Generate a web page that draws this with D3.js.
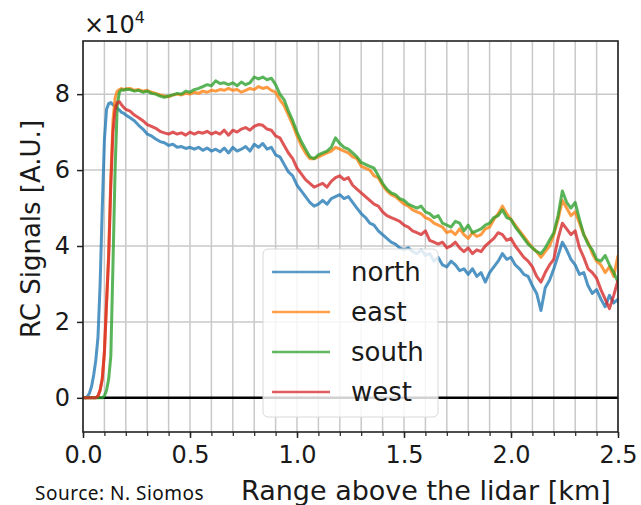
<!DOCTYPE html>
<html><head><meta charset="utf-8">
<script src="https://cdn.jsdelivr.net/npm/d3@7"></script>
<style>body{margin:0;background:#fff}svg{display:block}</style>
</head><body><div id="c"></div>
<script>
const rangeKm = [0,0.01,0.02,0.03,0.04,0.05,0.06,0.07,0.08,0.09,0.10,0.11,0.12,0.13,0.14,0.15,0.16,0.17,0.18,0.19,0.20,
0.22,0.24,0.26,0.28,0.30,0.32,0.34,0.36,0.38,0.40,0.42,0.44,0.46,0.48,0.50,0.52,0.54,0.56,0.58,0.60,
0.62,0.64,0.66,0.68,0.70,0.72,0.74,0.76,0.78,0.80,0.82,0.84,0.86,0.88,0.90,0.92,0.94,0.96,0.98,1.00,
1.02,1.04,1.06,1.08,1.10,1.12,1.14,1.16,1.18,1.20,1.22,1.24,1.26,1.28,1.30,1.32,1.34,1.36,1.38,1.40,
1.42,1.44,1.46,1.48,1.50,1.52,1.54,1.56,1.58,1.60,1.62,1.64,1.66,1.68,1.70,1.72,1.74,1.76,1.78,1.80,
1.82,1.84,1.86,1.88,1.90,1.92,1.94,1.96,1.98,2.00,2.02,2.04,2.06,2.08,2.10,2.12,2.14,2.16,2.18,2.20,
2.22,2.24,2.26,2.28,2.30,2.32,2.34,2.36,2.38,2.40,2.42,2.44,2.46,2.48,2.50];

const north = [0,0,0.03,0.12,0.3,0.6,1.0,1.6,3.0,5.0,6.8,7.6,7.75,7.78,7.72,7.68,7.62,7.58,7.52,7.5,7.45,
7.38,7.3,7.18,7.08,6.95,6.9,6.82,6.75,6.72,6.65,6.68,6.6,6.62,6.57,6.6,6.55,6.6,6.52,6.58,6.5,
6.55,6.48,6.58,6.45,6.6,6.5,6.55,6.62,6.5,6.68,6.6,6.7,6.55,6.6,6.4,6.35,6.15,5.95,5.85,5.6,
5.45,5.3,5.15,5.05,5.1,5.2,5.1,5.25,5.3,5.35,5.25,5.3,5.15,5.0,4.85,4.75,4.6,4.55,4.4,4.3,
4.2,4.1,4.05,3.95,3.9,3.95,3.85,3.8,3.9,3.75,3.8,3.6,3.7,3.5,3.45,3.6,3.5,3.35,3.4,3.25,
3.4,3.2,3.3,3.05,3.3,3.45,3.6,3.8,3.65,3.7,3.5,3.4,3.25,3.2,2.95,2.75,2.3,2.9,3.1,3.4,
3.75,4.1,3.9,3.65,3.5,3.25,3.3,2.95,2.75,2.85,2.6,2.4,2.7,2.5,2.6];

const east = [0,0,0,0,0,0,0,0.05,0.2,0.5,1.2,2.5,3.8,5.8,7.3,7.9,8.08,8.12,8.15,8.12,8.14,
8.15,8.1,8.12,8.08,8.1,8.05,8.02,7.98,7.95,7.93,7.98,8.0,7.98,8.02,8.0,8.05,8.02,8.08,8.05,8.1,
8.08,8.12,8.1,8.15,8.1,8.12,8.05,8.1,8.15,8.12,8.2,8.15,8.18,8.1,8.05,7.85,7.7,7.45,7.2,6.9,
6.65,6.45,6.3,6.3,6.35,6.4,6.45,6.5,6.6,6.55,6.5,6.45,6.35,6.3,6.1,6.05,6.0,5.85,5.8,5.6,
5.45,5.35,5.3,5.2,5.1,5.05,4.95,4.9,4.85,4.75,4.7,4.6,4.55,4.5,4.35,4.4,4.3,4.45,4.3,4.2,
4.35,4.25,4.3,4.45,4.5,4.7,4.85,5.05,4.85,4.7,4.55,4.4,4.25,4.1,3.95,3.85,3.7,3.85,4.0,4.3,
4.7,5.2,5.0,4.8,4.9,4.6,4.3,4.1,3.8,3.6,3.5,3.3,3.45,3.2,3.75];

const south = [0,0,0,0,0,0,0,0,0,0,0.05,0.2,0.5,1.1,3.5,6.0,7.7,8.05,8.12,8.1,8.13,
8.12,8.08,8.1,8.05,8.08,8.02,8.0,7.95,7.92,7.95,7.98,8.02,8.0,8.08,8.05,8.12,8.15,8.2,8.25,8.22,
8.35,8.28,8.3,8.25,8.3,8.22,8.32,8.25,8.3,8.45,8.4,8.45,8.38,8.42,8.25,8.0,7.85,7.55,7.3,7.0,
6.75,6.55,6.35,6.3,6.4,6.45,6.5,6.6,6.85,6.7,6.6,6.55,6.45,6.35,6.2,6.15,6.1,6.05,5.85,5.65,
5.5,5.4,5.35,5.25,5.2,5.1,5.05,5.0,5.05,4.9,4.85,4.75,4.8,4.6,4.55,4.5,4.65,4.6,4.4,4.55,
4.35,4.4,4.45,4.55,4.6,4.75,4.8,4.95,4.75,4.7,4.5,4.35,4.2,4.05,3.95,3.85,3.8,3.95,4.15,4.35,
4.8,5.45,5.15,5.0,5.15,4.7,4.3,4.05,3.9,3.65,3.6,3.75,3.5,3.3,3.05];

const west = [0,0,0,0,0,0,0,0.05,0.2,0.5,1.2,2.5,3.7,5.6,7.0,7.6,7.78,7.8,7.72,7.65,7.6,
7.55,7.45,7.38,7.3,7.2,7.15,7.1,7.02,6.98,6.95,7.0,6.95,6.98,6.92,7.0,6.95,7.0,6.97,7.02,6.95,
7.0,6.95,7.05,6.92,7.05,7.0,7.08,7.12,7.05,7.15,7.2,7.18,7.08,7.05,6.9,6.85,6.65,6.45,6.3,6.05,
5.9,5.75,5.65,5.55,5.6,5.65,5.55,5.7,5.8,5.85,5.75,5.8,5.6,5.5,5.4,5.3,5.2,5.1,5.05,4.9,
4.8,4.75,4.7,4.65,4.55,4.5,4.4,4.35,4.3,4.4,4.15,4.1,4.05,4.1,3.95,4.0,4.1,3.95,3.85,3.95,
3.8,3.9,3.85,4.0,4.1,4.2,4.35,4.3,4.15,4.2,4.0,3.85,3.7,3.6,3.45,3.2,3.05,3.3,3.5,3.65,
4.2,4.6,4.45,4.3,4.4,3.95,3.7,3.4,3.3,3.15,2.85,2.6,2.35,2.7,3.1];

const seriesNames = ["north","east","south","west"];
const seriesColors = ["#1f77b4","#ff7f0e","#2ca02c","#d62728"];
const xTicks = [0,0.5,1.0,1.5,2.0,2.5];
const xMinorTicks = [0,0.1,0.2,0.3,0.4,0.5,0.6,0.7,0.8,0.9,1.0,1.1,1.2,1.3,1.4,1.5,1.6,1.7,1.8,1.9,2.0,2.1,2.2,2.3,2.4,2.5];
const yTicks = [0,2,4,6,8];

const W = 641, H = 505;
const L = 83, R = 618, T = 41, B = 432;
const svg = d3.select("#c").append("svg").attr("width", W).attr("height", H);
const x = d3.scaleLinear().domain([0, 2.5]).range([L, R]);
const y = d3.scaleLinear().domain([-0.9, 9.4]).range([B, T]);
const font = "DejaVu Sans, sans-serif";

svg.append("defs").append("clipPath").attr("id","clip")
  .append("rect").attr("x", L).attr("y", T).attr("width", R - L).attr("height", B - T);

// grid
const g = svg.append("g");
g.selectAll(".vg").data(xMinorTicks).join("line")
  .attr("x1", d => x(d)).attr("x2", d => x(d)).attr("y1", T).attr("y2", B)
  .attr("stroke", "#c8c8c8").attr("stroke-width", 1.5);
g.selectAll(".hg").data(yTicks).join("line")
  .attr("x1", L).attr("x2", R).attr("y1", d => y(d)).attr("y2", d => y(d))
  .attr("stroke", "#c8c8c8").attr("stroke-width", 1.5);

// zero line
svg.append("line").attr("x1", L).attr("x2", R).attr("y1", y(0)).attr("y2", y(0))
  .attr("stroke", "#000").attr("stroke-width", 2.5);

// series
const data = [north, east, south, west];
const line = d3.line().x((d, i) => x(rangeKm[i])).y(d => y(d));
const lg = svg.append("g").attr("clip-path", "url(#clip)");
data.forEach((s, k) => {
  lg.append("path").datum(s).attr("d", line).attr("fill", "none")
    .attr("stroke", seriesColors[k]).attr("stroke-width", 3)
    .attr("stroke-opacity", 0.78).attr("stroke-linejoin", "round");
});

// axes
const xAxis = svg.append("g").attr("transform", `translate(0,${B})`)
  .call(d3.axisBottom(x).tickValues(xTicks).tickFormat(d3.format(".1f")).tickSize(6).tickPadding(8));
const xMinor = svg.append("g").attr("transform", `translate(0,${B})`)
  .call(d3.axisBottom(x).tickValues(xMinorTicks).tickFormat("").tickSize(4));
xMinor.select(".domain").remove();
const yAxis = svg.append("g").attr("transform", `translate(${L},0)`)
  .call(d3.axisLeft(y).tickValues(yTicks).tickSize(6).tickPadding(7));
[xAxis, yAxis].forEach(a => {
  a.select(".domain").remove();
  a.selectAll("text").attr("font-family", font).attr("font-size", 24).attr("fill", "#1a1a1a");
  a.selectAll("line").attr("stroke", "#222").attr("stroke-width", 1.5);
});
xMinor.selectAll("line").attr("stroke", "#222").attr("stroke-width", 1.2);

// frame
svg.append("rect").attr("x", L).attr("y", T).attr("width", R - L).attr("height", B - T)
  .attr("fill", "none").attr("stroke", "#222").attr("stroke-width", 1.6);

// legend
const leg = svg.append("g");
leg.append("rect").attr("x", 263).attr("y", 249).attr("width", 175).attr("height", 168)
  .attr("rx", 5).attr("fill", "#fff").attr("fill-opacity", 0.82)
  .attr("stroke", "#d8d8d8").attr("stroke-width", 1);
seriesNames.forEach((n, i) => {
  const yy = 272 + i * 40;
  leg.append("line").attr("x1", 272).attr("x2", 330).attr("y1", yy).attr("y2", yy)
    .attr("stroke", seriesColors[i]).attr("stroke-width", 2.5).attr("stroke-opacity", 0.75);
  leg.append("text").attr("x", 351).attr("y", yy).attr("dy", "0.35em")
    .attr("font-family", font).attr("font-size", 26).attr("fill", "#1a1a1a").text(n);
});

// labels
svg.append("text").attr("transform", `translate(40,229) rotate(-90)`)
  .attr("text-anchor", "middle").attr("font-family", font).attr("font-size", 26)
  .attr("fill", "#1a1a1a").text("RC Signals [A.U.]");
svg.append("text").attr("x", 241).attr("y", 500).attr("font-family", font).attr("font-size", 27)
  .attr("fill", "#1a1a1a").text("Range above the lidar [km]");
const mult = svg.append("text").attr("x", 84).attr("y", 33).attr("font-family", font)
  .attr("font-size", 24).attr("fill", "#1a1a1a");
mult.append("tspan").text("×10");
mult.append("tspan").attr("font-size", 16).attr("dy", -10).text("4");
svg.append("text").attr("x", 35).attr("y", 500).attr("font-family", "Noto Sans, sans-serif")
  .attr("font-size", 19).attr("letter-spacing", 0.5).attr("fill", "#111").text("Source: N. Siomos");
</script></body></html>
